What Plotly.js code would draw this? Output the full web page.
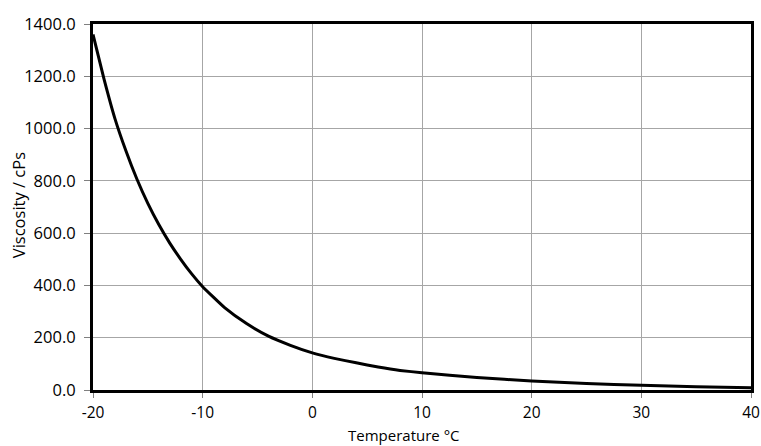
<!DOCTYPE html>
<html>
<head>
<meta charset="utf-8">
<script src="https://cdn.plot.ly/plotly-3.0.1.min.js"></script>
<style>html,body{margin:0;padding:0;background:#fff;}#chart{width:761px;height:446px;}</style>
</head>
<body>
<div id="chart"></div>
<script>
// Temperature (°C) and viscosity (cPs)
const temperature = [-20, -19, -18, -17, -16, -15, -14, -13, -12, -11, -10, -8, -6, -4, -2, 0, 2, 4, 6, 8, 10, 15, 20, 25, 30, 35, 40];
const viscosity   = [1360, 1190, 1038, 915, 807, 714, 633, 562, 500, 444, 395, 315, 254, 206, 171, 142, 121, 104, 88, 75, 66, 48, 34, 25, 18, 12, 9];

// Axis tick values and their labels (hyphen minus as in the reference)
const xTickVals = [-20, -10, 0, 10, 20, 30, 40];
const xTickText = ['-20', '-10', '0', '10', '20', '30', '40'];

const xTitle = 'Temperature \u00B0C';
const yTitle = 'Viscosity / cPs';

const font = {family: 'Open Sans, sans-serif', size: 16.5, color: '#000'};
const xTickFont = {family: 'Open Sans, sans-serif', size: 15.5, color: '#000'};
const xTitleFont = {family: 'Open Sans, sans-serif', size: 15, color: '#000'};

const trace = {
  x: temperature,
  y: viscosity,
  type: 'scatter',
  mode: 'lines',
  line: {color: '#000', width: 3, shape: 'spline', smoothing: 0.4},
  hoverinfo: 'skip'
};

const layout = {
  width: 761, height: 446,
  margin: {l: 93, r: 10, t: 24, b: 56, pad: 0},
  paper_bgcolor: '#fff', plot_bgcolor: '#fff',
  showlegend: false,
  font: font,
  xaxis: {
    range: [-20, 40],
    tickmode: 'array', tickvals: xTickVals, ticktext: xTickText,
    showgrid: true, gridcolor: '#a6a6a6', gridwidth: 1,
    zeroline: false,
    showline: true, linecolor: '#000', linewidth: 3, mirror: true,
    ticks: 'outside', ticklen: 5, tickcolor: '#808080', tickwidth: 1,
    ticklabelstandoff: 1,
    tickfont: xTickFont,
    automargin: false
  },
  yaxis: {
    range: [0, 1400], dtick: 200, tick0: 0,
    tickformat: '.1f',
    showgrid: true, gridcolor: '#a6a6a6', gridwidth: 1,
    zeroline: false,
    showline: true, linecolor: '#000', linewidth: 3, mirror: true,
    ticks: 'outside', ticklen: 6, tickcolor: '#808080', tickwidth: 1,
    ticklabelstandoff: 5,
    tickfont: font,
    automargin: false
  },
  annotations: [{
    text: xTitle, font: xTitleFont, showarrow: false,
    xref: 'paper', yref: 'paper',
    x: 0.4726, y: -0.124, xanchor: 'center', yanchor: 'middle', borderpad: 0
  }, {
    text: yTitle, font: font, showarrow: false, textangle: -90,
    xref: 'paper', yref: 'paper',
    x: -0.114, y: 0.505, xanchor: 'center', yanchor: 'middle'
  }]
};

Plotly.newPlot('chart', [trace], layout, {staticPlot: true, displayModeBar: false});
</script>
</body>
</html>
